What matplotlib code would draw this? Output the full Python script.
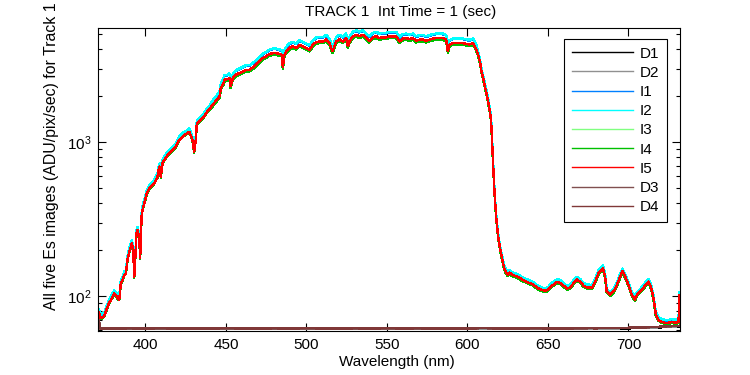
"""
TRACK 1 Es spectra: five illuminated images and four dark images
"""

import numpy as np
import matplotlib.pyplot as plt
from matplotlib.ticker import FixedLocator, NullFormatter, LogLocator

plt.rcParams['font.family'] = ['Liberation Sans', 'DejaVu Sans']
f = 11

#%% Data

wl = [370.5, 371.2, 372.2, 373.3, 374.3, 375.3, 376.4, 377.4, 378.4, 379.5,
      380.6, 381.6, 382.6, 383.7, 384.7, 385.7, 386.8, 387.8, 388.8, 389.9,
      390.9, 391.5, 392.4, 393.0, 393.6, 394.4, 395.0, 396.1, 396.7, 397.1,
      397.7, 398.6, 399.8, 400.8, 402.3, 403.3, 404.3, 405.4, 406.4, 407.5,
      408.1, 408.9, 409.5, 410.6, 411.6, 412.7, 413.7, 414.7, 415.7, 416.8,
      417.8, 418.8, 419.9, 420.9, 421.9, 423.0, 424.0, 425.0, 426.1, 427.1,
      428.1, 429.2, 430.2, 431.2, 431.9, 433.4, 434.3, 436.0, 438.0, 440.0,
      442.0, 444.0, 445.0, 446.0, 446.8, 448.4, 449.1, 451.0, 452.2, 452.8,
      454.3, 456.3, 458.4, 460.4, 462.5, 464.6, 466.7, 468.7, 470.8, 472.9,
      474.9, 477.0, 479.1, 481.2, 483.2, 484.7, 485.3, 486.3, 487.4, 489.4,
      491.5, 493.6, 495.7, 497.7, 499.8, 501.9, 504.0, 506.0, 508.1, 510.2,
      512.2, 514.3, 515.3, 516.3, 518.4, 520.5, 522.6, 524.6, 525.7, 526.7,
      528.8, 530.9, 532.9, 535.0, 537.1, 539.1, 541.2, 543.3, 545.3, 547.4,
      549.5, 551.6, 553.6, 555.7, 557.8, 559.8, 561.9, 564.0, 566.1, 568.1,
      570.2, 572.3, 574.4, 576.4, 578.5, 580.6, 582.6, 584.7, 586.8, 587.8,
      588.8, 590.9, 592.9, 595.0, 597.1, 599.2, 601.2, 603.5, 604.6, 605.6,
      606.6, 607.7, 608.7, 609.7, 610.8, 611.8, 612.8, 613.9, 614.5, 614.9,
      615.5, 616.2, 617.0, 618.0, 619.0, 620.0, 621.0, 622.0, 623.0, 624.0,
      625.0, 626.0, 628.0, 630.0, 632.0, 634.0, 636.0, 638.0, 640.0, 642.0,
      644.0, 646.0, 648.0, 650.0, 652.0, 654.0, 656.0, 658.0, 660.0, 662.0,
      664.0, 666.0, 668.0, 670.0, 672.0, 674.0, 677.2, 679.3, 681.4, 684.1,
      685.5, 686.5, 688.6, 690.7, 692.8, 694.8, 696.3, 697.9, 700.0, 702.1,
      704.1, 705.2, 707.2, 709.3, 711.4, 712.4, 714.1, 715.5, 717.0, 718.6,
      720.7, 722.8, 724.8, 726.9, 729.0, 731.1, 731.7]

i1 = [83, 80, 75, 76, 77, 82, 88, 94, 98, 103,
      108, 105, 101, 99, 126, 132, 143, 146, 178, 202,
      217, 229, 207, 139, 178, 265, 278, 252, 183, 252,
      357, 395, 437, 482, 520, 534, 546, 560, 589, 619,
      684, 720, 619, 755, 794, 827, 856, 878, 899, 922,
      946, 969, 1019, 1071, 1099, 1128, 1154, 1169, 1184, 1213,
      1154, 1071, 899, 1071, 1374, 1408, 1443, 1508, 1622, 1716,
      1864, 1981, 2044, 2100, 2377, 2560, 2692, 2712, 2759, 2437,
      2759, 2899, 2972, 3047, 3121, 3121, 3234, 3365, 3540, 3718,
      3813, 3945, 4008, 4008, 3945, 3909, 3234, 3909, 4110, 4318,
      4428, 4318, 4537, 4428, 4318, 4210, 4537, 4720, 4767, 4767,
      4900, 4650, 4318, 4110, 4767, 4926, 4767, 5015, 4428, 4767,
      5143, 5270, 5143, 5270, 5015, 4809, 5069, 5143, 5015, 5069,
      5069, 5143, 5143, 5143, 4767, 4968, 5015, 4936, 5015, 4809,
      4894, 4894, 4809, 4894, 4968, 5015, 5015, 5015, 4894, 4110,
      4537, 4650, 4650, 4650, 4650, 4598, 4555, 4650, 4428, 4210,
      3800, 3441, 2962, 2682, 2369, 2141, 1893, 1629, 1474, 1269,
      927, 639, 443, 319, 252, 216, 190, 170, 154, 147,
      143, 147, 141, 139, 136, 132, 129, 126, 124, 120,
      115, 113, 111, 113, 120, 124, 128, 125, 120, 115,
      118, 126, 132, 128, 121, 118, 117, 128, 146, 156,
      138, 110, 105, 110, 122, 138, 149, 138, 122, 105,
      98, 105, 110, 117, 125, 128, 117, 100, 78, 72,
      70, 69, 69, 70, 69, 70, 105]

i2 = [84, 81, 76, 77, 78, 83, 89, 95, 99, 104,
      109, 106, 102, 100, 127, 133, 144, 147, 180, 204,
      219, 231, 209, 140, 180, 268, 281, 255, 185, 255,
      361, 399, 441, 487, 525, 539, 552, 566, 595, 625,
      691, 727, 625, 763, 802, 835, 865, 887, 908, 931,
      956, 979, 1029, 1082, 1110, 1139, 1166, 1181, 1196, 1225,
      1166, 1082, 908, 1082, 1388, 1422, 1458, 1523, 1638, 1733,
      1883, 2001, 2065, 2121, 2401, 2586, 2719, 2739, 2787, 2462,
      2787, 2928, 3002, 3078, 3153, 3153, 3267, 3399, 3576, 3756,
      3852, 3985, 4048, 4048, 3985, 3948, 3267, 3948, 4152, 4362,
      4473, 4362, 4583, 4473, 4362, 4253, 4583, 4768, 4815, 4815,
      4949, 4697, 4362, 4152, 4815, 4976, 4815, 5066, 4473, 4815,
      5195, 5323, 5195, 5323, 5066, 4858, 5120, 5195, 5066, 5120,
      5120, 5195, 5195, 5195, 4815, 5018, 5066, 4986, 5066, 4858,
      4943, 4943, 4858, 4943, 5018, 5066, 5066, 5066, 4943, 4152,
      4583, 4697, 4697, 4697, 4697, 4644, 4601, 4697, 4473, 4253,
      3838, 3476, 2992, 2709, 2393, 2163, 1912, 1645, 1489, 1282,
      936, 645, 447, 322, 255, 218, 192, 172, 156, 148,
      144, 148, 142, 140, 137, 133, 130, 127, 125, 121,
      116, 114, 112, 114, 121, 125, 129, 126, 121, 116,
      119, 127, 133, 129, 122, 119, 118, 129, 147, 158,
      139, 111, 106, 111, 123, 139, 151, 139, 123, 106,
      99, 106, 111, 118, 126, 129, 118, 101, 79, 73,
      71, 70, 70, 71, 70, 71, 106]

i3 = [80, 77, 72, 73, 74, 79, 85, 90, 94, 99,
      104, 101, 97, 95, 121, 127, 137, 140, 171, 194,
      209, 220, 199, 133, 171, 255, 268, 243, 176, 243,
      344, 380, 420, 464, 500, 513, 526, 539, 567, 595,
      658, 692, 595, 727, 764, 795, 824, 845, 865, 887,
      910, 932, 980, 1030, 1057, 1085, 1110, 1125, 1139, 1167,
      1110, 1030, 865, 1030, 1322, 1354, 1389, 1450, 1560, 1650,
      1734, 1842, 1901, 1952, 2210, 2381, 2503, 2522, 2566, 2266,
      2566, 2695, 2764, 2834, 2903, 2903, 3007, 3129, 3292, 3457,
      3546, 3668, 3726, 3726, 3668, 3635, 3007, 3635, 3822, 4016,
      4117, 4016, 4219, 4117, 4016, 3915, 4219, 4389, 4433, 4433,
      4556, 4324, 4016, 3822, 4433, 4580, 4433, 4664, 4117, 4433,
      4782, 4900, 4782, 4900, 4664, 4472, 4713, 4782, 4664, 4713,
      4713, 4782, 4782, 4782, 4433, 4620, 4664, 4590, 4664, 4472,
      4551, 4551, 4472, 4551, 4620, 4664, 4664, 4664, 4551, 3822,
      4219, 4324, 4324, 4324, 4324, 4275, 4236, 4324, 4117, 3915,
      3653, 3309, 2848, 2579, 2278, 2059, 1820, 1566, 1418, 1221,
      891, 614, 426, 307, 243, 208, 183, 163, 149, 141,
      137, 141, 136, 134, 131, 127, 124, 121, 119, 115,
      111, 109, 107, 109, 115, 119, 123, 120, 115, 111,
      113, 121, 127, 123, 116, 113, 112, 123, 140, 150,
      133, 106, 101, 106, 117, 133, 144, 133, 117, 101,
      94, 101, 106, 112, 120, 123, 112, 96, 75, 69,
      67, 66, 66, 67, 66, 67, 101]

i4 = [79, 76, 71, 72, 73, 78, 84, 89, 93, 98,
      103, 100, 96, 94, 120, 126, 136, 139, 169, 192,
      207, 218, 197, 132, 169, 252, 265, 241, 174, 241,
      341, 376, 416, 459, 495, 508, 521, 534, 561, 589,
      651, 685, 589, 720, 756, 787, 816, 837, 856, 878,
      901, 923, 970, 1020, 1046, 1074, 1099, 1114, 1128, 1155,
      1099, 1020, 856, 1020, 1309, 1340, 1375, 1436, 1544, 1634,
      1716, 1823, 1882, 1932, 2188, 2357, 2477, 2496, 2540, 2243,
      2540, 2668, 2736, 2805, 2873, 2873, 2977, 3098, 3258, 3422,
      3510, 3631, 3688, 3688, 3631, 3598, 2977, 3598, 3783, 3975,
      4076, 3975, 4176, 4076, 3975, 3876, 4176, 4345, 4388, 4388,
      4509, 4280, 3975, 3783, 4388, 4534, 4388, 4617, 4076, 4388,
      4734, 4851, 4734, 4851, 4617, 4427, 4665, 4734, 4617, 4665,
      4665, 4734, 4734, 4734, 4388, 4573, 4617, 4544, 4617, 4427,
      4505, 4505, 4427, 4505, 4573, 4617, 4617, 4617, 4505, 3783,
      4176, 4280, 4280, 4280, 4280, 4232, 4193, 4280, 4076, 3876,
      3616, 3275, 2819, 2553, 2255, 2038, 1801, 1550, 1403, 1208,
      882, 608, 421, 304, 240, 206, 181, 162, 147, 139,
      135, 139, 134, 132, 129, 125, 123, 120, 118, 114,
      110, 108, 106, 108, 114, 118, 122, 119, 114, 110,
      112, 120, 125, 122, 115, 112, 111, 122, 138, 149,
      131, 105, 100, 105, 116, 131, 142, 131, 116, 100,
      93, 100, 105, 111, 119, 122, 111, 95, 74, 69,
      67, 66, 66, 67, 66, 67, 100]

i5 = [80, 77, 72, 73, 74, 79, 85, 90, 94, 99,
      104, 101, 97, 95, 121, 127, 137, 140, 171, 194,
      209, 220, 199, 133, 171, 255, 268, 243, 176, 243,
      344, 380, 420, 464, 500, 513, 526, 539, 567, 595,
      658, 692, 595, 727, 764, 795, 824, 845, 865, 887,
      910, 932, 980, 1030, 1057, 1085, 1110, 1125, 1139, 1167,
      1110, 1030, 865, 1030, 1322, 1354, 1389, 1450, 1560, 1650,
      1760, 1870, 1930, 1982, 2244, 2417, 2541, 2560, 2605, 2301,
      2605, 2736, 2806, 2877, 2947, 2947, 3053, 3177, 3342, 3510,
      3600, 3724, 3783, 3783, 3724, 3690, 3053, 3690, 3880, 4077,
      4180, 4077, 4283, 4180, 4077, 3975, 4283, 4456, 4500, 4500,
      4625, 4390, 4077, 3880, 4500, 4650, 4500, 4735, 4180, 4500,
      4855, 4975, 4855, 4975, 4735, 4540, 4785, 4855, 4735, 4785,
      4785, 4855, 4855, 4855, 4500, 4690, 4735, 4660, 4735, 4540,
      4620, 4620, 4540, 4620, 4690, 4735, 4735, 4735, 4620, 3880,
      4283, 4390, 4390, 4390, 4390, 4340, 4300, 4390, 4180, 3975,
      3690, 3342, 2877, 2605, 2301, 2080, 1838, 1582, 1432, 1233,
      900, 620, 430, 310, 245, 210, 185, 165, 150, 142,
      138, 142, 137, 135, 132, 128, 125, 122, 120, 116,
      112, 110, 108, 110, 116, 120, 124, 121, 116, 112,
      114, 122, 128, 124, 117, 114, 113, 124, 141, 152,
      134, 107, 102, 107, 118, 134, 145, 134, 118, 102,
      95, 102, 107, 113, 121, 124, 113, 97, 76, 70,
      68, 67, 67, 68, 67, 68, 102]

dark_wl = [370.5, 371.3, 372.0, 380, 390, 400, 410, 420, 430, 440,
           450, 460, 470, 480, 490, 500, 510, 520, 530, 540,
           550, 560, 570, 580, 590, 600, 610, 620, 630, 640,
           650, 660, 670, 680, 690, 700, 710, 715, 720, 725, 731.7]

d1 = [71, 66, 61.6, 61.2, 61.5, 61.1, 61.4, 61.6, 61.2, 61.3,
      61.5, 61.0, 61.4, 61.6, 61.2, 61.3, 61.5, 61.1, 61.4, 61.2,
      61.6, 61.3, 61.1, 61.5, 61.2, 61.4, 61.3, 61.6, 61.2, 61.4,
      61.1, 61.5, 61.3, 61.6, 61.4, 61.7, 62.0, 62.3, 62.6, 63.0, 63.5]
d2 = [70, 65, 61.3, 61.5, 61.2, 61.6, 61.3, 61.1, 61.5, 61.4,
      61.2, 61.6, 61.3, 61.2, 61.5, 61.1, 61.3, 61.6, 61.2, 61.5,
      61.3, 61.1, 61.5, 61.2, 61.6, 61.3, 61.5, 61.2, 61.4, 61.1,
      61.6, 61.2, 61.5, 61.3, 61.6, 61.9, 62.1, 62.5, 62.8, 63.2, 63.8]
d3 = [72, 67, 61.5, 61.8, 61.4, 61.9, 61.5, 61.7, 61.3, 61.8,
      61.6, 61.4, 61.9, 61.5, 61.7, 61.4, 61.8, 61.5, 61.7, 61.9,
      61.4, 61.7, 61.5, 61.8, 61.4, 61.6, 61.8, 61.5, 61.9, 61.6,
      61.4, 61.8, 61.6, 61.9, 62.0, 62.2, 62.5, 62.8, 63.1, 63.5, 64.0]
d4 = [71, 66, 61.7, 61.4, 61.8, 61.5, 61.9, 61.4, 61.7, 61.5,
      61.9, 61.6, 61.4, 61.8, 61.5, 61.9, 61.6, 61.4, 61.8, 61.5,
      61.9, 61.6, 61.8, 61.4, 61.7, 61.5, 61.9, 61.6, 61.4, 61.8,
      61.7, 61.5, 61.9, 61.7, 62.1, 62.3, 62.6, 62.9, 63.3, 63.7, 64.2]

names = ['D1', 'D2', 'I1', 'I2', 'I3', 'I4', 'I5', 'D3', 'D4']
colors = ['#000000', '#909090', '#0080ff', '#00ffff', '#80ff80',
          '#00c000', '#ff0000', '#805050', '#803838']

#%% Plot

fig = plt.figure(figsize=(7.5, 3.75), dpi=100)
ax = fig.add_axes([98/750, 44/375, 582/750, 303/375])

series = [(dark_wl, d1), (dark_wl, d2), (wl, i1), (wl, i2), (wl, i3),
          (wl, i4), (wl, i5), (dark_wl, d3), (dark_wl, d4)]
for (x, y), name, c in zip(series, names, colors):
    ax.plot(x, y, color=c, lw=1.0, label=name, antialiased=False)

ax.set_yscale('log')
ax.set_xlim(370.5, 732)
ax.set_ylim(59.3, 5500)
ax.xaxis.set_major_locator(FixedLocator([400, 450, 500, 550, 600, 650, 700]))
ax.yaxis.set_major_locator(LogLocator(base=10))
ax.yaxis.set_minor_locator(LogLocator(base=10, subs=np.arange(2, 10)))
ax.yaxis.set_minor_formatter(NullFormatter())
ax.tick_params(which='both', direction='in', top=True, right=True,
               labelsize=f, width=0.8)
ax.tick_params(which='major', length=5.5, pad=5)
ax.tick_params(which='minor', length=3)
for s in ax.spines.values():
    s.set_linewidth(0.8)

fig.text(401/750, 1 - 12/375, 'TRACK 1  Int Time = 1 (sec)', fontsize=f,
         ha='center', va='center')
fig.text(397/750, 1 - 362/375, 'Wavelength (nm)', fontsize=f,
         ha='center', va='center')
fig.text(52/750, 1 - 310/375, 'All five Es images (ADU/pix/sec) for Track 1',
         fontsize=11.4, rotation=90, ha='center', va='bottom')

leg = ax.legend(loc='upper left', bbox_to_anchor=(564/750, 1 - 39/375),
                bbox_transform=fig.transFigure, borderaxespad=0,
                fontsize=f, handlelength=4.0, handletextpad=0.45,
                labelspacing=0.34, borderpad=0.5, fancybox=False,
                framealpha=1, edgecolor='black')
leg.get_frame().set_linewidth(0.8)

plt.savefig('out.png', dpi=100)
